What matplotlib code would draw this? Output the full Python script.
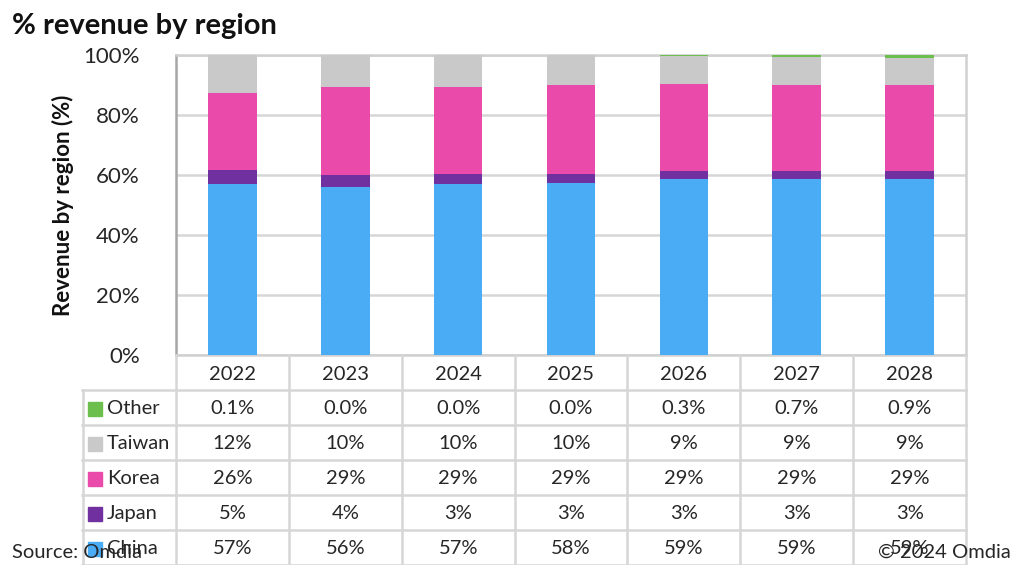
import matplotlib
matplotlib.use("Agg")
import matplotlib.pyplot as plt
from matplotlib.patches import Rectangle
import numpy as np

plt.rcParams['font.family'] = ['Lato', 'DejaVu Sans']

years = ["2022", "2023", "2024", "2025", "2026", "2027", "2028"]
china = [57.0, 56.0, 57.0, 57.5, 58.6, 58.6, 58.6]
japan = [4.6, 4.0, 3.2, 3.0, 2.7, 2.7, 2.6]
korea = [25.8, 29.3, 29.1, 29.6, 29.0, 28.7, 28.8]
taiwan = [12.5, 10.7, 10.7, 9.9, 9.4, 9.3, 9.1]
other = [0.1, 0.0, 0.0, 0.0, 0.3, 0.7, 0.9]

other_lbl = ["0.1%", "0.0%", "0.0%", "0.0%", "0.3%", "0.7%", "0.9%"]
taiwan_lbl = ["12%", "10%", "10%", "10%", "9%", "9%", "9%"]
korea_lbl = ["26%", "29%", "29%", "29%", "29%", "29%", "29%"]
japan_lbl = ["5%", "4%", "3%", "3%", "3%", "3%", "3%"]
china_lbl = ["57%", "56%", "57%", "58%", "59%", "59%", "59%"]

series_names = ["China", "Japan", "Korea", "Taiwan", "Other"]
colors = {"China": "#4BACF6", "Japan": "#7030A0", "Korea": "#EA4BAA",
          "Taiwan": "#C9C9C9", "Other": "#6CBF4C"}
values = {"China": china, "Japan": japan, "Korea": korea, "Taiwan": taiwan, "Other": other}
labels = {"China": china_lbl, "Japan": japan_lbl, "Korea": korea_lbl,
          "Taiwan": taiwan_lbl, "Other": other_lbl}

W, H = 1014, 565
fig = plt.figure(figsize=(W / 100, H / 100), dpi=100)
txt = "#262626"

# main axes (pixel box: x 176-966, y 55-355)
ax = fig.add_axes([176 / W, (H - 355) / H, 790 / W, 300 / H])
x = np.arange(len(years))
bottom = np.zeros(len(years))
for name in series_names:
    v = np.array(values[name])
    ax.bar(x, v, 0.43, bottom=bottom, color=colors[name], zorder=3, linewidth=0)
    bottom += v
ax.set_xlim(-0.5, len(years) - 0.5)
ax.set_ylim(0, 100)
ax.set_yticks(np.arange(0, 101, 20))
ax.set_yticklabels([f"{t}%" for t in range(0, 101, 20)], fontsize=16, color=txt)
ax.set_xticks([])
ax.tick_params(axis="y", length=0, pad=26)
ax.grid(axis="y", color="#D6D6D6", linewidth=1.8, linestyle="-", zorder=0)
for s in ["top", "right", "bottom"]:
    ax.spines[s].set_color("#D0D0D0")
    ax.spines[s].set_linewidth(1.8)
ax.spines["left"].set_color("#A6A6A6")
ax.spines["left"].set_linewidth(1.8)
ax.set_ylabel("Revenue by region (%)", fontsize=16, fontweight="bold", color="#111111")
ax.yaxis.set_label_coords(-0.129, 0.5)

# data table (pixel box: x 82-966, y 355-565)
left_units = 94 / (790 / 7)
tab = fig.add_axes([82 / W, 0, (966 - 82) / W, 210 / H])
tab.set_xlim(-0.5 - left_units, len(years) - 0.5)
tab.set_ylim(6, 0)
tab.axis("off")
gc = "#D6D6D6"
lw = 1.8
row_order = ["Other", "Taiwan", "Korea", "Japan", "China"]
for r in range(1, 7):
    tab.plot([-0.5 - left_units, len(years) - 0.5], [r, r], color=gc, lw=lw, clip_on=False)
for c in range(len(years) + 1):
    tab.plot([c - 0.5, c - 0.5], [0, 6], color=gc, lw=lw, clip_on=False)
tab.plot([-0.5 - left_units + 0.01, -0.5 - left_units + 0.01], [1, 6], color=gc, lw=lw, clip_on=False)

fs = 14.5
for i, yr in enumerate(years):
    tab.text(i, 0.55, yr, ha="center", va="center", fontsize=fs, color=txt)
for r, name in enumerate(row_order, start=1):
    x0 = -0.5 - left_units
    tab.add_patch(Rectangle((x0 + 0.055, r + 0.33), 0.124, 0.4, color=colors[name], clip_on=False))
    tab.text(x0 + 0.22, r + 0.53, name, ha="left", va="center", fontsize=fs, color=txt)
    for i, lbl in enumerate(labels[name]):
        tab.text(i, r + 0.53, lbl, ha="center", va="center", fontsize=fs, color=txt)

fig.text(12 / W, 1 - 34 / H, "% revenue by region", fontsize=21, fontweight="bold",
         ha="left", va="baseline", color="#111111")
fig.text(12 / W, 4 / H, "Source: Omdia", fontsize=14.5, ha="left", va="bottom", color=txt)
fig.text(1011 / W, 4 / H, "\u00a9 2024 Omdia", fontsize=14.5, ha="right", va="bottom", color=txt)

fig.savefig("out.png", dpi=100)
